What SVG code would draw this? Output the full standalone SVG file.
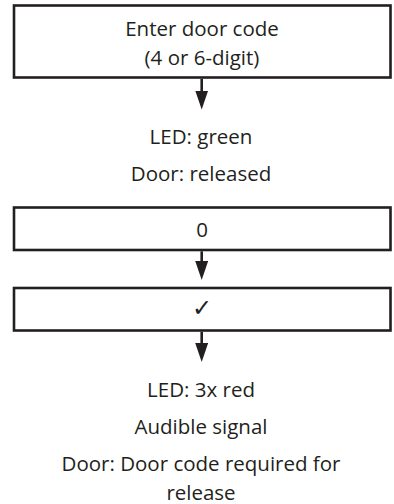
<svg xmlns="http://www.w3.org/2000/svg" width="394" height="504" viewBox="0 0 394 504">
  <style>
    .box { fill: #ffffff; stroke: #231f20; stroke-width: 2.6; }
    .conn { stroke: #231f20; stroke-width: 2.6; fill: none; }
    .t { font-family: "Open Sans", "Noto Sans", sans-serif; font-size: 20.5px; fill: #231f20; text-anchor: middle; }
    .chk { font-family: "DejaVu Sans", sans-serif; font-size: 24px; fill: #231f20; text-anchor: middle; }
  </style>
  <defs>
    <marker id="ah" markerUnits="userSpaceOnUse" viewBox="0 0 19 13" markerWidth="19" markerHeight="13" refX="9" refY="6.5" orient="auto">
      <path d="M0,0 L19,6.5 L0,13 Z" fill="#231f20"/>
    </marker>
  </defs>
  <rect width="394" height="504" fill="#ffffff"/>

  <g id="node-enter">
    <rect class="box" x="14" y="5.5" width="376.5" height="72"/>
    <text class="t" x="202" y="36">Enter door code</text>
    <text class="t" x="202" y="65">(4 or 6-digit)</text>
  </g>

  <g id="node-status-green">
    <text class="t" x="201" y="144">LED: green</text>
    <text class="t" x="201" y="180.5">Door: released</text>
  </g>

  <g id="node-zero">
    <rect class="box" x="14" y="207.5" width="376.5" height="42.5"/>
    <text class="t" x="202" y="236.5">0</text>
  </g>

  <g id="node-check">
    <rect class="box" x="14" y="288" width="376.5" height="42.5"/>
    <text class="chk" x="202" y="315.5">✓</text>
  </g>

  <g id="node-status-red">
    <text class="t" x="201" y="397">LED: 3x red</text>
    <text class="t" x="201" y="434">Audible signal</text>
    <text class="t" x="201" y="471">Door: Door code required for</text>
    <text class="t" x="201" y="499.5">release</text>
  </g>

  <g id="connectors">
    <line class="conn" x1="201.7" y1="78.8" x2="201.7" y2="99.5" marker-end="url(#ah)"/>
    <line class="conn" x1="201.7" y1="251.3" x2="201.7" y2="270" marker-end="url(#ah)"/>
    <line class="conn" x1="201.7" y1="331.8" x2="201.7" y2="352" marker-end="url(#ah)"/>
  </g>
</svg>
